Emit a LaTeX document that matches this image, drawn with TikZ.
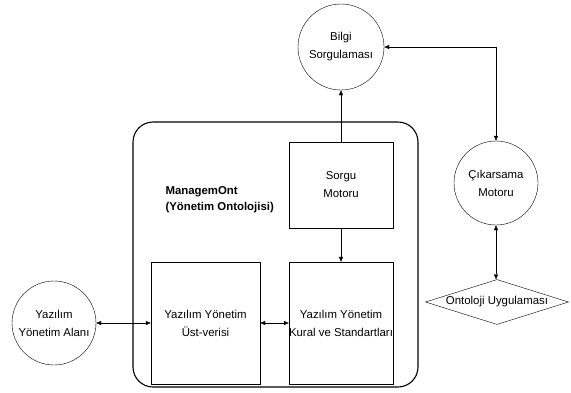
\documentclass[tikz,border=0pt]{standalone}
\usepackage{fontspec}
\setmainfont{Liberation Sans}
\usetikzlibrary{shapes,shapes.geometric,arrows.meta,calc,positioning}
\tikzset{
    -{Triangle[length=5pt,width=4pt]},line width=0.9pt,
    state/.style ={circle, draw, minimum size=86pt, inner sep=0pt, align=center},
    box/.style ={rectangle, draw, align=center, inner sep=0pt},
    app/.style ={diamond, draw, aspect=3.2, inner sep=0pt, minimum width=143pt, minimum height=45pt},
    frame/.style={rectangle, draw, line width=1.1pt, rounded corners=20pt, minimum width=285pt, minimum height=265pt},
    bidirected/.style={{Triangle[length=5pt,width=4pt]}-{Triangle[length=5pt,width=4pt]}},
}

\begin{document}
\begin{tikzpicture}[x=1pt,y=-1pt,font=\fontsize{11.4}{18}\selectfont]
\useasboundingbox (0,0) rectangle (571,392);

    % outer frame
    \node[frame] (mo) at (275.5,254.5) {};
    \node[anchor=west, align=left, font=\fontsize{11.4}{16}\selectfont\bfseries] (motitle) at (162,200) {ManagemOnt\\(Yönetim Ontolojisi)};

    % boxes
    \node[box, minimum width=104pt, minimum height=86pt] (sorgu) at (341,185) {Sorgu\\Motoru};
    \node[box, minimum width=104pt, minimum height=122pt] (kural) at (341,323) {Yazılım Yönetim\\Kural ve Standartları};
    \node[box, minimum width=109pt, minimum height=122pt] (ust) at (205.5,323) {Yazılım Yönetim\\Üst-verisi};

    % circles
    \node[state] (bilgi) at (341,47) {Bilgi\\Sorgulaması};
    \node[state, minimum size=84pt] (cikar) at (496,183) {Çıkarsama\\Motoru};
    \node[state, minimum size=84pt] (alan) at (54,323) {Yazılım\\Yönetim Alanı};

    % diamond
    \node[app] (uyg) at (497,302) {Ontoloji Uygulaması};

    % Directed edge
    \path (sorgu) edge (bilgi);
    \path (sorgu) edge (kural);

    % Bidirected edge
    \path[bidirected] (alan) edge (ust);
    \path[bidirected] (ust) edge (kural);
    \path[bidirected] (cikar.south) edge (cikar.south |- uyg.north);
    \draw[bidirected] (bilgi.east) -| (cikar.north);

\end{tikzpicture}
\end{document}
